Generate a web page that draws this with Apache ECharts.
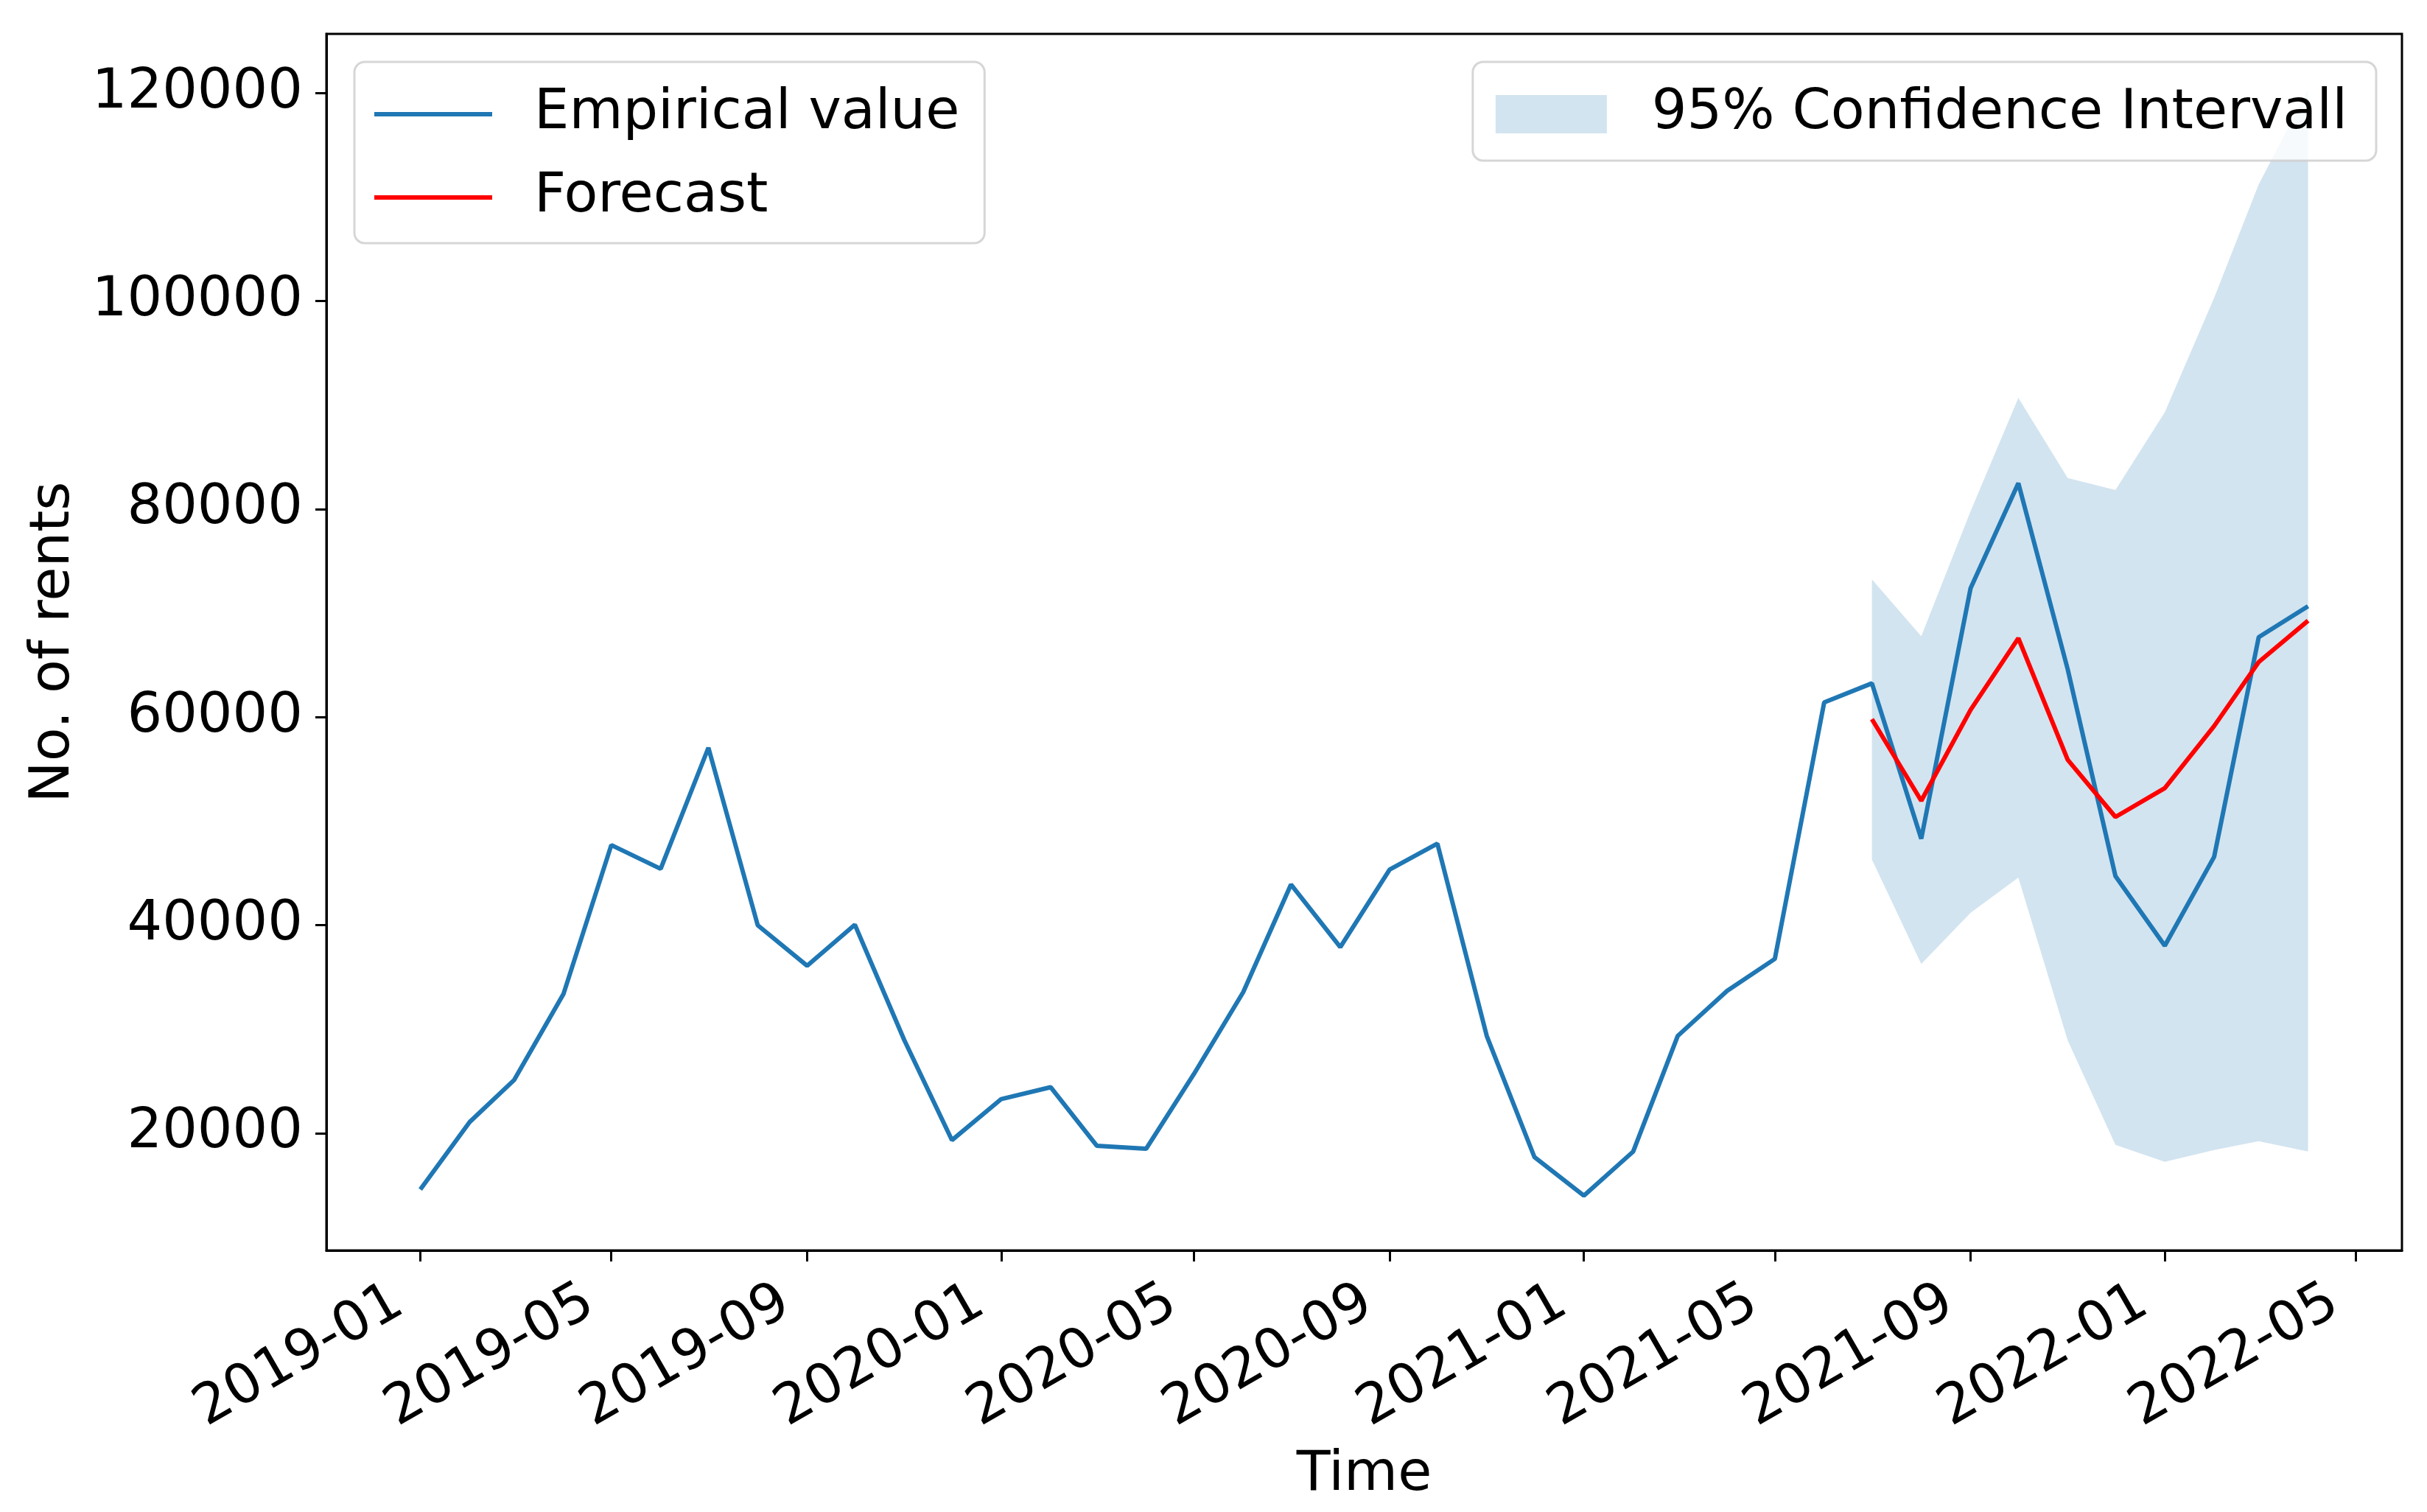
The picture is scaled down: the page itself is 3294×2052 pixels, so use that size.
<!DOCTYPE html>
<html>
<head>
<meta charset="utf-8">
<script src="https://cdn.jsdelivr.net/npm/echarts@6/dist/echarts.min.js"></script>
<style>
html,body{margin:0;padding:0;background:#fff;}
#chart{width:3294px;height:2052px;}
</style>
</head>
<body>
<div id="chart"></div>
<script>
// ---- data ----
const months = ['2019-01','2019-02','2019-03','2019-04','2019-05','2019-06','2019-07','2019-08','2019-09','2019-10','2019-11','2019-12',
  '2020-01','2020-02','2020-03','2020-04','2020-05','2020-06','2020-07','2020-08','2020-09','2020-10','2020-11','2020-12',
  '2021-01','2021-02','2021-03','2021-04','2021-05','2021-06','2021-07','2021-08','2021-09','2021-10','2021-11','2021-12',
  '2022-01','2022-02','2022-03','2022-04'];
const empirical = [14600, 21080, 25130, 33410, 47700, 45420, 57060, 39990, 36100, 40050, 28980, 19340,
  23290, 24430, 18800, 18510, 25690, 33560, 43910, 37890, 45350, 47840, 29360, 17700,
  14000, 18240, 29360, 33690, 36760, 61410, 63250, 48310, 72400, 82490, 64600, 44720,
  38020, 46570, 67680, 70660];
const forecastMonths = ['2021-07','2021-08','2021-09','2021-10','2021-11','2021-12','2022-01','2022-02','2022-03','2022-04'];
const forecast = [59800, 51960, 60700, 67580, 55900, 50400, 53170, 59140, 65290, 69270];
const ciLower  = [46320, 36280, 41200, 44580, 28920, 18890, 17250, 18390, 19240, 18240];
const ciUpper  = [73240, 67780, 79800, 90680, 82980, 81830, 89300, 100300, 111200, 120300];
const xTickLabels = ['2019-01','2019-05','2019-09','2020-01','2020-05','2020-09','2021-01','2021-05','2021-09','2022-01','2022-05'];
const yTickValues = [20000, 40000, 60000, 80000, 100000, 120000];
const xRange = ['2018-11-03', '2022-05-30'];
const yRange = [8740, 125670];

// ---- helpers ----
function ts(s){ const p = s.split('-').map(Number); return Date.UTC(p[0], p[1]-1, p[2] || 1); }
function fmt(v){ const d = new Date(v); return d.getUTCFullYear() + '-' + String(d.getUTCMonth()+1).padStart(2,'0'); }

const FONT = 'DejaVu Sans';
const BLUE = '#1f77b4';
const RED = '#ff0000';
const BAND = 'rgba(31,119,180,0.2)';
const LINE_ICON = 'path://M0,0H160V6H0Z';

const empData = months.map((m,i)=>[ts(m), empirical[i]]);
const fcData = forecastMonths.map((m,i)=>[ts(m), forecast[i]]);
const ciData = forecastMonths.map((m,i)=>[ts(m), ciLower[i], ciUpper[i]]);

const chart = echarts.init(document.getElementById('chart'), null, {renderer:'canvas'});
chart.setOption({
  animation: false,
  backgroundColor: '#fff',
  grid: { left: 443, right: 34, top: 46, bottom: 355, show: true, borderColor: '#000', borderWidth: 3, backgroundColor: 'transparent' },
  xAxis: {
    type: 'value',
    min: ts(xRange[0]), max: ts(xRange[1]),
    name: 'Time', nameLocation: 'middle', nameGap: 268,
    nameTextStyle: { fontSize: 75, fontFamily: FONT, color: '#000' },
    axisLine: { show: true, lineStyle: { color: '#000', width: 3 } },
    axisTick: { show: true, length: 15, lineStyle: { color: '#000', width: 3 }, customValues: xTickLabels.map(ts) },
    axisLabel: { show: true, rotate: 30, fontSize: 75, fontFamily: FONT, color: '#000', margin: 49, padding: [0,33,0,0],
      customValues: xTickLabels.map(ts), formatter: v => fmt(v) },
    splitLine: { show: false }
  },
  yAxis: {
    type: 'value',
    min: yRange[0], max: yRange[1],
    name: 'No. of rents', nameLocation: 'middle', nameGap: 332, nameRotate: 90,
    nameTextStyle: { fontSize: 75, fontFamily: FONT, color: '#000' },
    axisLine: { show: true, lineStyle: { color: '#000', width: 3 } },
    axisTick: { show: true, length: 15, lineStyle: { color: '#000', width: 3 }, customValues: yTickValues },
    axisLabel: { show: true, fontSize: 75, fontFamily: FONT, color: '#000', margin: 32,
      customValues: yTickValues, formatter: v => String(v) },
    splitLine: { show: false }
  },
  legend: [
    {
      left: 481, top: 84, orient: 'vertical', selectedMode: false,
      data: [
        { name: 'Empirical value', icon: LINE_ICON, itemStyle: { color: BLUE, borderWidth: 0 } },
        { name: 'Forecast', icon: LINE_ICON, itemStyle: { color: RED, borderWidth: 0 } }
      ],
      itemWidth: 160, itemHeight: 80, itemGap: 33,
      padding: [31, 34, 22, 27],
      backgroundColor: 'rgba(255,255,255,0.8)', borderColor: 'rgba(204,204,204,0.8)', borderWidth: 3, borderRadius: 14,
      textStyle: { fontSize: 75, fontFamily: FONT, color: '#000', lineHeight: 80, padding: [0,0,0,52] }
    },
    {
      right: 69, top: 84, orient: 'vertical', selectedMode: false,
      data: [{ name: '95% Confidence Intervall', icon: 'rect', itemStyle: { color: BAND, borderWidth: 0 } }],
      itemWidth: 151, itemHeight: 52,
      padding: [31, 39, 23, 31],
      backgroundColor: 'rgba(255,255,255,0.8)', borderColor: 'rgba(204,204,204,0.8)', borderWidth: 3, borderRadius: 14,
      textStyle: { fontSize: 75, fontFamily: FONT, color: '#000', lineHeight: 80, padding: [0,0,0,56] }
    }
  ],
  series: [
    {
      name: '95% Confidence Intervall', type: 'custom', z: 1, clip: true,
      itemStyle: { color: BAND },
      data: ciData,
      encode: { x: 0, y: [1, 2] },
      renderItem: function (params, api) {
        if (params.dataIndex !== 0) return null;
        const pts = [];
        for (let i = 0; i < ciData.length; i++) pts.push(api.coord([ciData[i][0], ciData[i][2]]));
        for (let i = ciData.length - 1; i >= 0; i--) pts.push(api.coord([ciData[i][0], ciData[i][1]]));
        return { type: 'polygon', shape: { points: pts }, style: { fill: BAND } };
      }
    },
    {
      name: 'Empirical value', type: 'line', z: 3, data: empData, symbol: 'none', showSymbol: false,
      color: BLUE, lineStyle: { color: BLUE, width: 6 }
    },
    {
      name: 'Forecast', type: 'line', z: 4, data: fcData, symbol: 'none', showSymbol: false,
      color: RED, lineStyle: { color: RED, width: 6 }
    }
  ]
});
</script>
</body>
</html>
